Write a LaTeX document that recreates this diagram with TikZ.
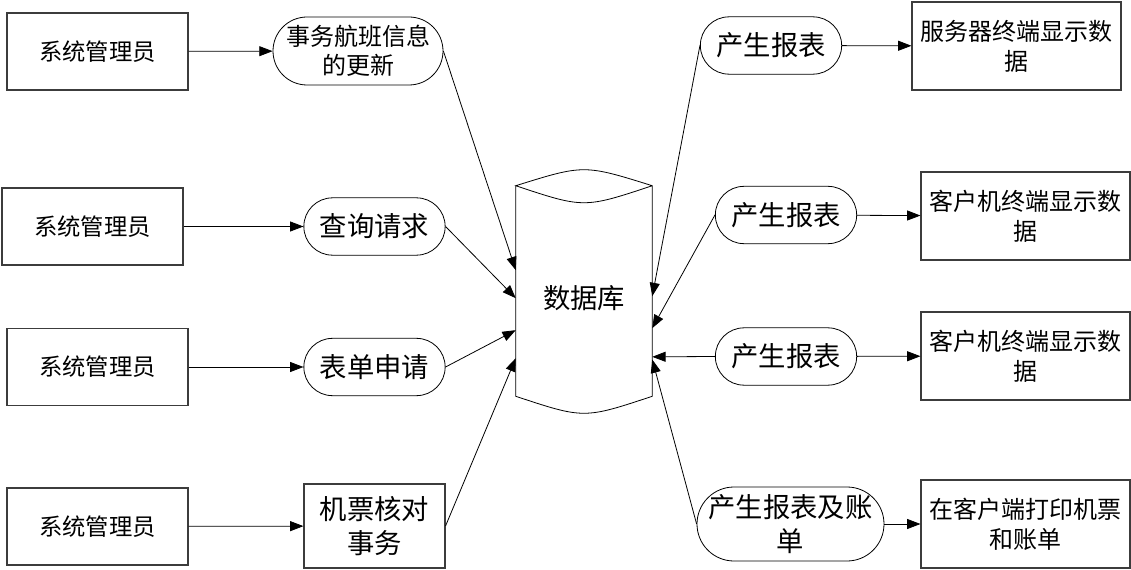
\documentclass[tikz,border=0pt]{standalone}
\usepackage{fontspec}
\usepackage{tikz}
\usetikzlibrary{positioning,arrows.meta,calc}
\newfontfamily\cjk{Noto Sans CJK SC}
\definecolor{boxline}{RGB}{60,60,60}

\begin{document}
\begin{tikzpicture}[x=0.75pt, y=-0.75pt,
  actor/.style={draw=boxline, line width=0.8pt, minimum width=135.75pt, minimum height=57.75pt,
                inner sep=0pt, font=\cjk\fontsize{17.5}{22}\selectfont},
  proc/.style={draw, line width=0.6pt, rounded corners=21.5pt, minimum width=106pt, minimum height=43pt,
               inner sep=0pt, align=center, font=\cjk\fontsize{20.5}{26}\selectfont},
  task/.style={draw=boxline, line width=0.8pt, minimum width=105.75pt, minimum height=63pt,
               inner sep=0pt, align=center, font=\cjk\fontsize{20.5}{26}\selectfont},
  outbox/.style={draw=boxline, line width=0.8pt, minimum width=156.75pt, minimum height=66pt,
                 inner sep=0pt, align=center, font=\cjk\fontsize{18}{22.5}\selectfont},
  store/.style={minimum width=102pt, minimum height=182.25pt, inner sep=0pt,
                font=\cjk\fontsize{20.5}{26}\selectfont},
  ar/.style={line width=0.6pt, -{Triangle[length=10pt, width=7.5pt]}},
]
\useasboundingbox (0,0) rectangle (1131,570);

% left side
\node[actor] (adm1) at (97.5,51.5)  {系统管理员};
\node[actor] (adm2) at (92.5,226.5) {系统管理员};
\node[actor] (adm3) at (97.5,367)   {系统管理员};
\node[actor] (adm4) at (97.5,526.5) {系统管理员};

\node[proc, minimum width=127.5pt, minimum height=51pt, rounded corners=25.5pt,
      font=\cjk\fontsize{18}{22}\selectfont] (upd) at (358,51) {事务航班信息\\的更新};
\node[proc] (qry)  at (374.5,226.5) {查询请求};
\node[proc] (form) at (374.5,367)   {表单申请};
\node[task] (chk)  at (374.5,526)   {机票核对\\事务};

% database
\node[store] (db) at (584,291.5) {\raisebox{-4.9pt}[\height][\depth]{数据库}};
\draw[line width=0.6pt]
  ([yshift=-12pt]db.north west) coordinate (dtl)
  -- ([yshift=12.75pt]db.south west)
  .. controls ([yshift=-4.25pt]db.south) .. ([yshift=12.75pt]db.south east)
  -- ([yshift=-12pt]db.north east) coordinate (dtr)
  .. controls ([yshift=4pt]db.north) .. (dtl)
  .. controls ([yshift=-29pt]db.north) .. (dtr);

% right side
\node[proc] (rep1) at (771,45.5)  {产生报表};
\node[proc] (rep2) at (786,215)   {产生报表};
\node[proc] (rep3) at (786,356.5) {产生报表};
\node[proc, minimum width=140.25pt, minimum height=55.5pt, rounded corners=27.75pt] (rep4)
      at (790.5,524) {产生报表及账\\单};

\node[outbox] (srv)  at (1016.5,46)  {服务器终端显示数\\据};
\node[outbox] (cli1) at (1025.5,216) {客户机终端显示数\\据};
\node[outbox] (cli2) at (1025.5,356) {客户机终端显示数\\据};
\node[outbox] (prt)  at (1025.5,524) {在客户端打印机票\\和账单};

\draw[ar] (adm1) -- (upd);
\draw[ar] (adm2) -- (qry);
\draw[ar] (adm3) -- (form);
\draw[ar] (adm4) -- (chk);

\draw[ar] (upd.east)  -- ([yshift=16pt]db.west);
\draw[ar] (qry.east)  -- ([yshift=-5pt]db.west);
\draw[ar] (form.east) -- ([yshift=-29pt]db.west);
\draw[ar] (chk.east)  -- ([yshift=-50pt]db.west);

\draw[ar] (rep1.west) -- ([yshift=-3.5pt]db.east);
\draw[ar] (rep2.west) -- ([yshift=-27.5pt]db.east);
\draw[ar] (rep3.west) -- ([yshift=-49pt]db.east);
\draw[ar] (rep4.west) -- ([yshift=-51pt]db.east);

\draw[ar] (rep1) -- (srv);
\draw[ar] (rep2) -- (cli1);
\draw[ar] (rep3) -- (cli2);
\draw[ar] (rep4) -- (prt);
\end{tikzpicture}
\end{document}
